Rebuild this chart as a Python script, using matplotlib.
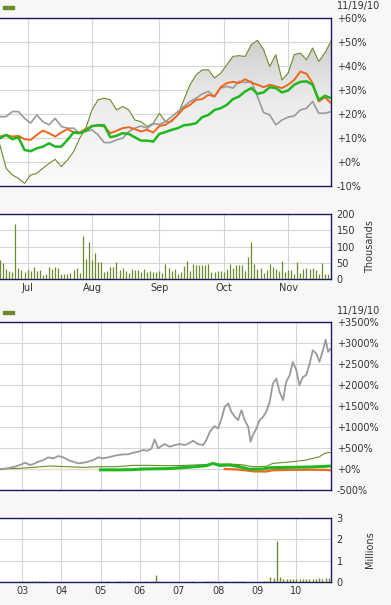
import numpy as np
import pandas as pd
import matplotlib
matplotlib.use('Agg')
import matplotlib.pyplot as plt
from matplotlib.patches import Polygon, Rectangle
from matplotlib.colors import LinearSegmentedColormap

# ---- short term (5 months, trading days) ----
days = pd.bdate_range('2010-06-18', '2010-11-19', freq='C',
                      holidays=['2010-07-05', '2010-09-06'])

# % change, sampled every second trading day
olive = [7, -2.6, -5.4, -6.8, -8.9, -5.4, -4.7, -2.6, -0.6, 1.1, -1.9, 0.8, 4.3, 9.9,
         14.1, 21.7, 25.9, 26.6, 25.9, 21.7, 23.1, 21.7, 17.5, 16.8, 14.8, 16.2, 20.3,
         16.8, 16.8, 19.6, 25.9, 32.2, 36.3, 38.4, 38.4, 35.0, 37.0, 40.5, 44.0, 44.3,
         44.0, 48.9, 50.7, 46.8, 39.8, 44.7, 34.2, 37.0, 44.7, 45.4, 42.6, 47.5, 41.9,
         45.4, 50.3]
gray = [18.9, 18.9, 21.0, 21.0, 18.2, 16.2, 19.6, 16.8, 15.5, 18.2, 14.8, 14.1, 14.1,
        12.0, 12.7, 13.4, 11.3, 8.1, 8.1, 9.2, 9.9, 12.7, 14.1, 15.0, 14.1, 15.9, 15.7,
        16.8, 18.9, 21.0, 23.1, 25.2, 26.6, 28.4, 29.4, 27.3, 30.8, 31.5, 30.8, 33.6,
        33.1, 33.6, 27.3, 20.6, 19.6, 15.5, 17.5, 18.7, 19.2, 21.7, 22.4, 25.2, 20.3,
        20.3, 21.0]
orange = [10.6, 11.3, 10.6, 10.9, 9.5, 9.2, 11.3, 13.1, 12.0, 10.6, 12.3, 13.7, 12.4,
          12.3, 13.8, 14.8, 15.3, 14.8, 12.0, 13.0, 14.1, 14.5, 13.7, 12.7, 13.4, 12.3,
          15.0, 15.5, 17.3, 19.6, 22.4, 23.8, 25.9, 26.2, 28.0, 27.3, 31.2, 32.9, 33.4,
          32.9, 34.5, 33.1, 32.2, 31.2, 32.2, 31.5, 30.8, 32.2, 34.2, 37.7, 36.8, 32.9,
          25.2, 27.0, 24.5]
green = [9.9, 11.3, 9.5, 10.3, 5.0, 4.5, 5.7, 6.4, 7.8, 6.4, 6.4, 9.2, 12.3, 12.0, 13.1,
         15.0, 15.3, 15.3, 10.3, 10.9, 12.0, 11.7, 10.3, 8.9, 8.9, 8.5, 11.7, 12.5, 13.4,
         14.1, 15.3, 15.6, 16.2, 18.7, 19.6, 21.7, 22.4, 23.8, 26.2, 27.3, 29.4, 30.8,
         28.4, 29.0, 31.2, 30.8, 29.0, 29.8, 32.2, 33.4, 33.6, 32.2, 25.9, 27.6, 26.6]

# daily volume, thousands
volume = [59, 48, 30, 26, 23, 170, 33, 28, 23, 28, 26, 38, 26, 28, 12, 15, 38, 31, 38, 33,
          15, 15, 15, 18, 28, 33, 20, 133, 62, 115, 59, 81, 51, 51, 23, 26, 38, 38, 51, 28,
          33, 26, 20, 31, 28, 28, 21, 31, 23, 26, 23, 23, 26, 20, 46, 33, 26, 31, 15, 23,
          40, 54, 26, 46, 43, 43, 43, 43, 46, 21, 23, 26, 26, 23, 30, 46, 33, 43, 43, 43,
          25, 67, 115, 46, 31, 33, 20, 28, 45, 38, 31, 26, 54, 23, 28, 28, 15, 51, 20, 31,
          35, 30, 33, 28, 15, 48, 15, 15, 59]

# ---- long term (decimal years) ----
lg_years = [2002.43, 2002.60, 2002.81, 2002.98, 2003.07, 2003.20, 2003.28, 2003.41, 2003.54,
            2003.66, 2003.79, 2003.92, 2004.05, 2004.17, 2004.30, 2004.43, 2004.56, 2004.68,
            2004.81, 2004.94, 2005.07, 2005.19, 2005.32, 2005.45, 2005.58, 2005.70, 2005.83,
            2005.96, 2006.09, 2006.21, 2006.30, 2006.38, 2006.47, 2006.55, 2006.64, 2006.77,
            2006.89, 2007.02, 2007.15, 2007.28, 2007.36, 2007.49, 2007.62, 2007.70, 2007.79,
            2007.91, 2008.00, 2008.09, 2008.17, 2008.26, 2008.34, 2008.43, 2008.51, 2008.60,
            2008.68, 2008.77, 2008.83, 2008.89, 2008.98, 2009.06, 2009.15, 2009.23, 2009.32,
            2009.40, 2009.49, 2009.57, 2009.66, 2009.74, 2009.83, 2009.91, 2010.00, 2010.08,
            2010.17, 2010.25, 2010.34, 2010.42, 2010.51, 2010.59, 2010.68, 2010.75, 2010.81,
            2010.87]
lg_gray = [-9, 15, 55, 110, 150, 95, 118, 174, 213, 277, 253, 308, 277, 213, 174, 134, 150,
           174, 213, 277, 253, 277, 308, 332, 348, 348, 388, 411, 451, 435, 490, 704, 490,
           546, 593, 530, 570, 593, 570, 625, 673, 593, 570, 688, 886, 1021, 966, 1203, 1480,
           1560, 1362, 1243, 1164, 1401, 1164, 1005, 650, 807, 966, 1164, 1243, 1362, 1599,
           2035, 2154, 1837, 1639, 2075, 2233, 2550, 2352, 1995, 2193, 2233, 2510, 2827,
           2748, 2550, 2827, 3080, 2788, 2866]

lo_years = [2002.43, 2002.94, 2003.28, 2003.70, 2004.13, 2004.56, 2004.98, 2005.41, 2005.83,
            2006.26, 2006.68, 2007.11, 2007.53, 2007.96, 2008.30, 2008.62, 2008.89, 2009.23,
            2009.40, 2009.91, 2010.25, 2010.42, 2010.59, 2010.72, 2010.85, 2010.885]
lg_olive = [0, 15, 40, 71, 55, 40, 55, 55, 87, 87, 79, 85, 100, 118, 118, 100, 55, 63, 134,
            174, 213, 253, 292, 371, 395, 390]

lgr_years = [2005.00, 2005.43, 2005.83, 2006.08, 2006.70, 2007.21, 2007.70, 2007.87, 2008.04,
             2008.30, 2008.55, 2008.81, 2009.15, 2009.32, 2009.83, 2010.34, 2010.885]
lg_green = [-20, -20, -16, 0, 8, 40, 79, 134, 85, 95, 55, -5, 0, 31, 40, 47, 71]

lor_years = [2008.17, 2008.50, 2008.77, 2008.89, 2009.23, 2009.40, 2009.83, 2010.34, 2010.75,
             2010.885]
lg_orange = [0, -12, -40, -56, -60, -30, -20, -18, -20, -32]

# monthly volume, millions (Jul 2002 - Nov 2010)
lg_volume = [0.02, 0.01, 0.02, 0.01, 0.02, 0.03,
             0.03, 0.05, 0.04, 0.06, 0.05, 0.07, 0.04, 0.03, 0.02, 0.02, 0.02, 0.01,
             0.01, 0.01, 0.02, 0.01, 0.01, 0.02, 0.01, 0.01, 0.01, 0.02, 0.01, 0.02,
             0.03, 0.02, 0.04, 0.02, 0.02, 0.03, 0.05, 0.04, 0.05, 0.03, 0.02, 0.02,
             0.02, 0.02, 0.03, 0.02, 0.03, 0.35, 0.03, 0.02, 0.02, 0.01, 0.02, 0.02,
             0.02, 0.01, 0.02, 0.02, 0.03, 0.02, 0.02, 0.02, 0.03, 0.05, 0.06, 0.03,
             0.02, 0.02, 0.03, 0.02, 0.02, 0.03, 0.04, 0.05, 0.04, 0.02, 0.02, 0.02,
             0.02, 0.02, 0.03, 0.04, 0.25, 0.18, 1.9, 0.22, 0.15, 0.14, 0.12, 0.15,
             0.12, 0.14, 0.13, 0.15, 0.12, 0.14, 0.16, 0.18, 0.15, 0.2, 0.17]
year_ticks = list(range(2003, 2011))

OLIVE = '#6b8b2b'
GRAY = '#9a9a9a'
ORANGE = '#f2661c'
GREEN = '#1fb81f'
GRID = '#d6d6d6'
FRAME = '#1a1a5e'
TXT = '#333333'
BG = '#f7f7f7'
FS = 7

W, H = 391, 605
fig = plt.figure(figsize=(W / 100, H / 100), dpi=100, facecolor=BG)


def add_ax(x0, y0, x1, y1):
    ax = fig.add_axes([x0 / W, 1 - y1 / H, (x1 - x0) / W, (y1 - y0) / H])
    ax.set_facecolor('white')
    for s in ['top', 'right', 'bottom']:
        ax.spines[s].set_color(FRAME)
        ax.spines[s].set_linewidth(1)
    ax.spines['left'].set_visible(False)
    ax.yaxis.tick_right()
    ax.tick_params(length=0, labelsize=FS, labelcolor=TXT, pad=4)
    ax.grid(True, color=GRID, lw=0.8)
    ax.set_axisbelow(True)
    return ax


idx = np.arange(len(days))
sx = idx[::2]
month_starts = [i for i in range(1, len(days)) if days[i].month != days[i - 1].month]
month_names = [days[i].strftime('%b') for i in month_starts]

# panel 1: short-term performance
ax1 = add_ax(0, 18, 331, 186)
ax1.set_yticks(range(-10, 61, 10))
ax1.set_yticklabels([f'{v:+d}%' for v in range(-10, 61, 10)])
ax1.set_xticks(month_starts)
ax1.set_xticklabels([])

verts = [(sx[0], -10)] + list(zip(sx, olive)) + [(sx[-1], -10)]
clip = Polygon(verts, closed=True, facecolor='none', edgecolor='none')
ax1.add_patch(clip)
cmap = LinearSegmentedColormap.from_list('g', ['#fbfbfb', '#ececec', '#c4c4c4'])
grad = np.linspace(0, 1, 256).reshape(-1, 1)
im = ax1.imshow(grad, extent=[0, idx[-1], -10, 60], origin='lower', aspect='auto',
                cmap=cmap, zorder=1)
im.set_clip_path(clip)
ax1.plot(sx, olive, color=OLIVE, lw=0.8, zorder=3)
ax1.plot(sx, gray, color=GRAY, lw=1.2, zorder=4)
ax1.plot(sx, orange, color=ORANGE, lw=1.4, zorder=5)
ax1.plot(sx, green, color=GREEN, lw=1.8, zorder=6)
ax1.set_xlim(0, idx[-1])
ax1.set_ylim(-10, 60)

# panel 2: short-term volume
ax2 = add_ax(0, 214, 331, 279)
ax2.vlines(idx, 0, volume, color=OLIVE, lw=0.9, zorder=3)
ax2.set_xlim(0, idx[-1])
ax2.set_ylim(0, 200)
ax2.set_yticks(range(0, 201, 50))
ax2.set_xticks(month_starts)
ax2.set_xticklabels(month_names)
ax2.tick_params(axis='x', pad=3)

# panel 3: long-term performance
ax3 = add_ax(0, 322, 331, 490)
ax3.axhline(0, xmin=0, xmax=0.31, color='#f1d9c9', lw=1, zorder=2)
ax3.plot(lo_years, lg_olive, color=OLIVE, lw=0.8, zorder=3)
ax3.plot(lg_years, lg_gray, color=GRAY, lw=1.3, zorder=4)
ax3.plot(lgr_years, lg_green, color=GREEN, lw=2.2, zorder=5)
ax3.plot(lor_years, lg_orange, color=ORANGE, lw=1.6, zorder=4)
ax3.set_xlim(2002.43, 2010.885)
ax3.set_ylim(-500, 3500)
ax3.set_yticks(range(-500, 3501, 500))
ax3.set_yticklabels([f'{v:+d}%' for v in range(-500, 3501, 500)])
ax3.set_xticks(year_ticks)
ax3.set_xticklabels([])

# panel 4: long-term volume
ax4 = add_ax(0, 518, 331, 582)
vol_years = 2002.5 + np.arange(len(lg_volume)) / 12
ax4.vlines(vol_years, 0, lg_volume, color=OLIVE, lw=1.0, zorder=3)
ax4.set_xlim(2002.43, 2010.885)
ax4.set_ylim(0, 3)
ax4.set_yticks([0, 1, 2, 3])
ax4.set_xticks(year_ticks)
ax4.set_xticklabels([str(y)[2:] for y in year_ticks])
ax4.tick_params(axis='x', pad=3)

# header bits
for y in (6, 311):
    fig.patches.append(Rectangle((3 / W, 1 - (y + 3) / H), 11 / W, 3 / H,
                                 transform=fig.transFigure, color=OLIVE))
    fig.text(337 / W, 1 - y / H, '11/19/10', fontsize=FS, color=TXT,
             ha='left', va='center')
fig.text(370 / W, 1 - 247 / H, 'Thousands', rotation=90, fontsize=FS, color=TXT,
         ha='center', va='center')
fig.text(370 / W, 1 - 550 / H, 'Millions', rotation=90, fontsize=FS, color=TXT,
         ha='center', va='center')

fig.savefig('out.png', dpi=100, facecolor=BG)
